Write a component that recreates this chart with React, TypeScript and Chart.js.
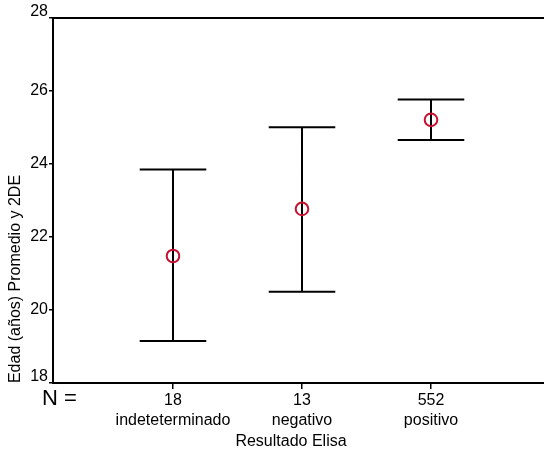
import { useEffect, useRef } from 'react';
import { Chart, registerables } from 'chart.js';

Chart.register(...registerables);

const categories = ['indeteterminado', 'negativo', 'positivo'];
const nCounts = ['18', '13', '552'];
const means = [21.48, 22.77, 25.21];
const upper = [23.85, 25.01, 25.77];
const lower = [19.15, 20.5, 24.66];
const yMin = 18;
const yMax = 28;
const yStep = 2;

const FONT = '"Liberation Sans", Arial, Helvetica, sans-serif';
const CAP = 0.258;
const W = 544;
const H = 454;

const textPlugin = {
  id: 'texts',
  afterDraw(chart: any) {
    const { ctx, chartArea } = chart;
    ctx.save();
    ctx.fillStyle = '#000';
    ctx.font = `16px ${FONT}`;
    ctx.textAlign = 'center';
    ctx.textBaseline = 'alphabetic';
    ctx.fillText('Resultado Elisa', 291, 446);
    ctx.save();
    ctx.translate(19.5, chartArea.bottom - 104);
    ctx.rotate(-Math.PI / 2);
    ctx.fillText('Edad (años) Promedio y 2DE', 0, 0);
    ctx.restore();
    ctx.font = `22px ${FONT}`;
    ctx.textAlign = 'left';
    ctx.fillText('N =', 42, 405);
    ctx.restore();
  },
};

const zeroPad = (s: any) => {
  s.paddingLeft = 0;
  s.paddingRight = 0;
  s.paddingTop = 0;
  s.paddingBottom = 0;
};

export default function App() {
  const ref = useRef<HTMLCanvasElement>(null);
  useEffect(() => {
    if (!ref.current) return;
    document.documentElement.style.overflow = 'hidden';
    const positions = categories.map((_, i) => i + 1);
    const barData: any[] = [];
    positions.forEach((x, i) => {
      barData.push(
        { x: x - CAP, y: upper[i] },
        { x: x + CAP, y: upper[i] },
        { x, y: null },
        { x, y: upper[i] },
        { x, y: lower[i] },
        { x, y: null },
        { x: x - CAP, y: lower[i] },
        { x: x + CAP, y: lower[i] },
        { x, y: null }
      );
    });
    const chart = new Chart(ref.current, {
      type: 'line',
      data: {
        datasets: [
          {
            label: 'Promedio',
            data: positions.map((x, i) => ({ x, y: means[i] })),
            showLine: false,
            pointStyle: 'circle',
            pointRadius: 6.3,
            pointBorderWidth: 2,
            pointBorderColor: '#c8102e',
            pointBackgroundColor: 'rgba(0,0,0,0)',
          },
          {
            label: '2DE',
            data: barData,
            borderColor: '#000',
            borderWidth: 2,
            pointRadius: 0,
            spanGaps: false,
            tension: 0,
          },
        ],
      },
      options: {
        responsive: false,
        animation: false,
        layout: { autoPadding: false, padding: { top: 18, left: 0, right: 0, bottom: 0 } },
        plugins: { legend: { display: false }, tooltip: { enabled: false } },
        scales: {
          x: {
            type: 'linear',
            position: 'bottom',
            min: 0.0698,
            max: 3.876,
            afterBuildTicks: (s: any) => {
              s.ticks = positions.map((v) => ({ value: v }));
            },
            afterFit: (s: any) => {
              s.height = 71;
              zeroPad(s);
            },
            ticks: {
              autoSkip: false,
              maxRotation: 0,
              padding: 2,
              color: '#000',
              font: { family: FONT, size: 16, lineHeight: 1.25 },
              callback: (v: any) => {
                const i = Math.round(v) - 1;
                return [nCounts[i], categories[i]];
              },
            },
            grid: { drawOnChartArea: false, drawTicks: true, tickLength: 6, color: '#000', lineWidth: 1.5 },
            border: { display: true, color: '#000', width: 2 },
          },
          x2: {
            type: 'linear',
            position: 'top',
            min: 0,
            max: 1,
            afterBuildTicks: (s: any) => {
              s.ticks = [];
            },
            afterFit: (s: any) => {
              s.height = 0;
              zeroPad(s);
            },
            ticks: { display: false },
            grid: { display: false },
            border: { display: true, color: '#000', width: 2 },
          },
          y: {
            min: yMin,
            max: yMax,
            afterFit: (s: any) => {
              s.width = 53;
              zeroPad(s);
            },
            ticks: {
              stepSize: yStep,
              padding: 1,
              color: '#000',
              font: { family: FONT, size: 16, lineHeight: 0.75 },
              callback: (v: any) => (v === yMin || v === yMax ? [String(v), ''] : String(v)),
            },
            grid: { drawOnChartArea: false, drawTicks: true, tickLength: 4, color: '#000', lineWidth: 1.5 },
            border: { display: true, color: '#000', width: 2 },
          },
        },
      },
      plugins: [textPlugin],
    } as any);
    return () => chart.destroy();
  }, []);
  return (
    <div style={{ position: 'absolute', left: 0, top: 0, width: W, height: H }}>
      <canvas ref={ref} width={W} height={H} style={{ display: 'block' }} />
    </div>
  );
}
